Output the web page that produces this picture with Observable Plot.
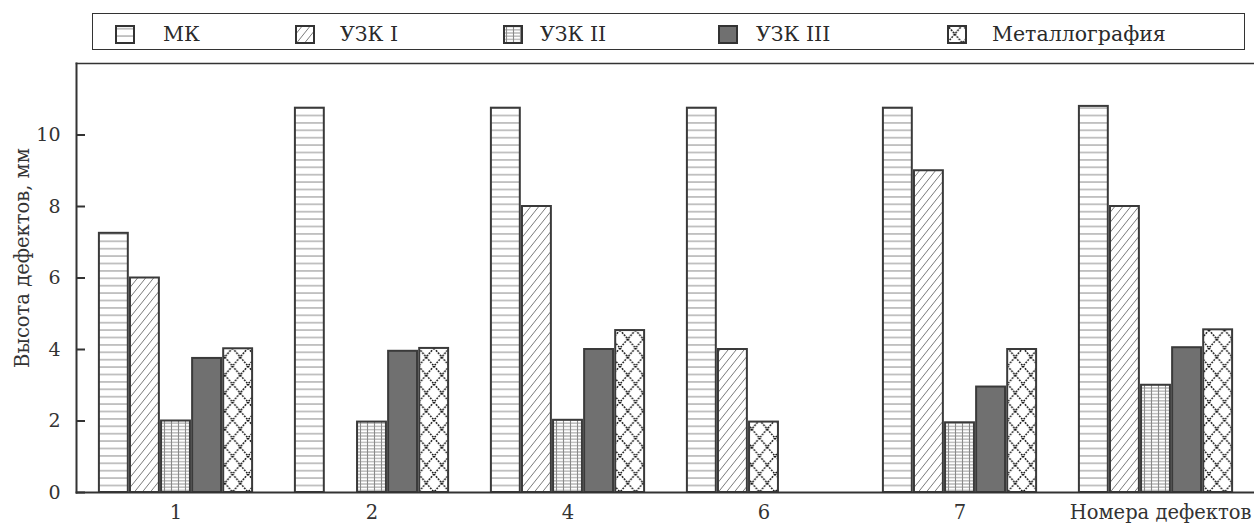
<!DOCTYPE html>
<html>
<head>
<meta charset="utf-8">
<script src="https://cdn.jsdelivr.net/npm/d3@7"></script>
<script src="https://cdn.jsdelivr.net/npm/@observablehq/plot@0.6"></script>
<style>
  html, body { margin: 0; padding: 0; background: #fff; }
  #legend { position: relative; height: 60px; }
  #legend .box { position: absolute; left: 92px; top: 13px; width: 1153px; height: 37px; border: 1.6px solid #333; box-sizing: border-box; }
  #legend svg.sw { position: absolute; top: 25px; width: 20px; height: 19px; }
  #legend .lab { position: absolute; top: 24px; font-size: 20.5px; line-height: 20px; color: #2a2a2a; white-space: nowrap; }
  #defs { position: absolute; width: 0; height: 0; }
</style>
</head>
<body>
<svg id="defs" width="0" height="0">
  <defs>
    <pattern id="p-mk" width="10" height="7.4" patternUnits="userSpaceOnUse">
      <rect width="10" height="7.4" fill="#fff"/>
      <line x1="0" y1="3.7" x2="10" y2="3.7" stroke="#8a8a8a" stroke-width="1"/>
    </pattern>
    <pattern id="p-uzk1" width="8" height="10" patternUnits="userSpaceOnUse">
      <rect width="8" height="10" fill="#fff"/>
      <path d="M0,10L8,0M-1,1.25L1,-1.25M7,11.25L9,8.75" stroke="#7a7a7a" stroke-width="1"/>
    </pattern>
    <pattern id="p-uzk2" width="7" height="3.2" patternUnits="userSpaceOnUse">
      <rect width="7" height="3.2" fill="#fff"/>
      <line x1="0" y1="1.6" x2="7" y2="1.6" stroke="#9a9a9a" stroke-width="1"/>
      <line x1="3.5" y1="0" x2="3.5" y2="3.2" stroke="#8a8a8a" stroke-width="1.1"/>
    </pattern>
    <pattern id="p-uzk3" width="4" height="4" patternUnits="userSpaceOnUse">
      <rect width="4" height="4" fill="#707070"/>
    </pattern>
    <pattern id="p-metal" width="15.5" height="18" patternUnits="userSpaceOnUse">
      <rect width="15.5" height="18" fill="#fff"/>
      <path d="M0,0L15.5,18M15.5,0L0,18" stroke="#151515" stroke-width="1.5" stroke-dasharray="1.8 1.2"/>
    </pattern>
  </defs>
</svg>
<div id="legend"><div class="box"></div></div>
<div id="chart"></div>
<script>
// ---- data ----
const defects = ["1", "2", "4", "6", "7", "8"];
const methods = ["МК", "УЗК I", "УЗК II", "УЗК III", "Металлография"];
const mk     = [7.25, 10.75, 10.75, 10.75, 10.75, 10.8];
const uzk1   = [6.0,  null,  8.0,   4.0,   9.0,   8.0];
const uzk2   = [2.0,  1.97,  2.02,  null,  1.95,  3.0];
const uzk3   = [3.75, 3.95,  4.0,   null,  2.95,  4.05];
const metal  = [4.02, 4.03,  4.53,  1.97,  4.0,   4.55];
const yTicks = [0, 2, 4, 6, 8, 10];
const packedDefects = ["6"]; // in this group the bars are drawn side by side without gaps
const patterns = ["p-mk", "p-uzk1", "p-uzk2", "p-uzk3", "p-metal"];

const series = [mk, uzk1, uzk2, uzk3, metal];
const rows = [];
defects.forEach((d, j) => {
  let k = 0;
  methods.forEach((m, i) => {
    const v = series[i][j];
    if (v == null) return;
    const slot = packedDefects.includes(d) ? k : i;
    k++;
    rows.push({defect: d, method: m, value: v, slot, fill: `url(#${patterns[i]})`});
  });
});

const FONT = "DejaVu Serif";

// ---- legend (layout: swatch left / text left, in px) ----
const legendSwatchLeft = [115, 295, 503, 718, 947];
const legendTextLeft   = [163, 340, 540, 756, 992];
const legend = document.getElementById("legend");
methods.forEach((m, i) => {
  const sw = document.createElementNS("http://www.w3.org/2000/svg", "svg");
  sw.setAttribute("class", "sw");
  sw.setAttribute("viewBox", "0 0 20 19");
  sw.style.left = legendSwatchLeft[i] + "px";
  sw.innerHTML = `<rect x="1" y="1" width="18" height="17" fill="url(#${patterns[i]})" stroke="#333" stroke-width="2"/>`;
  legend.appendChild(sw);
  const lab = document.createElement("div");
  lab.className = "lab";
  lab.style.left = legendTextLeft[i] + "px";
  lab.style.fontFamily = `'${FONT}'`;
  lab.textContent = m;
  legend.appendChild(lab);
});

// ---- chart ----
const W = 1254, H = 464, ML = 76, MR = 0, MT = 3, MB = 32;
const padIn = 0.21, padOut = 0.1;
const band = d3.scaleBand(defects, [ML, W - MR]).paddingInner(padIn).paddingOuter(padOut);
const slotW = band.bandwidth() / methods.length;

const barMarks = d3.range(methods.length).map(s =>
  Plot.barY(rows.filter(r => r.slot === s), {
    x: "defect", y: "value", fill: "fill",
    stroke: "#3a3a3a", strokeWidth: 2,
    insetLeft: s * slotW + 0.9, insetRight: (methods.length - 1 - s) * slotW + 0.9
  })
);

const chart = Plot.plot({
  width: W, height: H,
  marginLeft: ML, marginRight: MR, marginTop: MT, marginBottom: MB,
  style: {fontSize: "20px", color: "#2a2a2a", background: "#fff"},
  x: {domain: defects, paddingInner: padIn, paddingOuter: padOut, axis: null},
  y: {domain: [0, 12], axis: null},
  color: {type: "identity"},
  marks: [
    ...barMarks,
    Plot.frame({anchor: "left", stroke: "#333", strokeWidth: 2}),
    Plot.frame({anchor: "top", stroke: "#333", strokeWidth: 1.6}),
    Plot.frame({anchor: "bottom", stroke: "#333", strokeWidth: 1.8}),
    Plot.tickY(yTicks, {y: d => d, insetRight: W - ML - MR - 9, stroke: "#333", strokeWidth: 2}),
    Plot.axisY({ticks: yTicks, tickSize: 0, tickPadding: 16, fontSize: 19, fontFamily: FONT, label: null, fill: "#333"}),
    Plot.axisX({tickSize: 0, tickPadding: 13, fontSize: 19.5, fontFamily: FONT, fill: "#333",
      tickFormat: d => d === "8" ? "" : d,
      label: "Номера дефектов", labelAnchor: "right", labelOffset: 26}),
    Plot.text(["Высота дефектов, мм"], {frameAnchor: "left", textAnchor: "middle", dx: -54, dy: -20, rotate: -90, fontSize: 19.5, fontFamily: FONT, fill: "#333"})
  ]
});
chart.querySelectorAll("text").forEach(t => t.setAttribute("font-family", FONT));
document.getElementById("chart").appendChild(chart);
</script>
</body>
</html>
